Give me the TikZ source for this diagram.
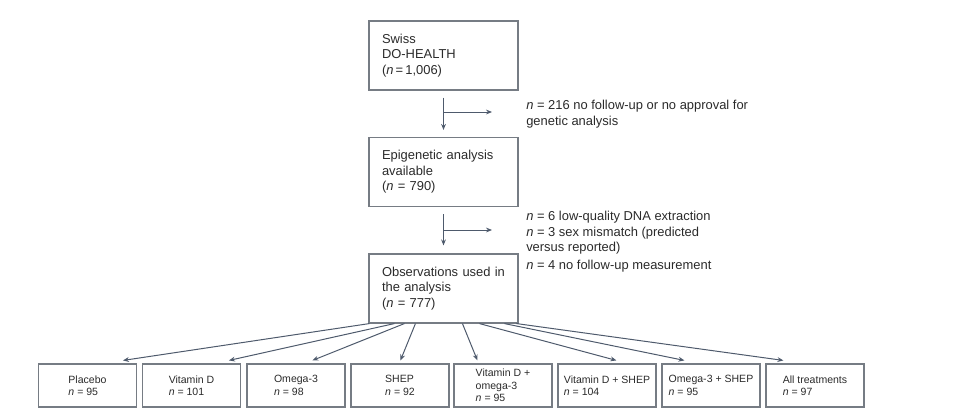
\documentclass[tikz,border=0pt]{standalone}
\usepackage{fontspec}
\setmainfont{Liberation Sans}
\usetikzlibrary{arrows.meta,calc}
\newlength\pxu
\setlength\pxu{0.75pt}
\definecolor{boxc}{HTML}{767C84}
\definecolor{arrc}{HTML}{4E5A6C}
\definecolor{txtc}{HTML}{2A2A2A}
\tikzset{
  mainbox/.style={draw=boxc, line width=0.85pt, text=txtc, text width=123\pxu, inner xsep=13\pxu, inner ysep=0pt,
    minimum height=69\pxu, align=left, font=\fontsize{9.7pt}{11.6pt}\selectfont},
  armbox/.style={draw=boxc, line width=0.85pt, text=txtc, minimum width=98\pxu, minimum height=43\pxu, inner sep=1pt,
    align=left, font=\fontsize{7.9pt}{9.4pt}\selectfont},
  sidetxt/.style={text=txtc, anchor=west, inner sep=0pt, align=left, font=\fontsize{9.7pt}{11.6pt}\selectfont},
  arr/.style={draw=arrc, line width=0.75pt, -{Stealth[length=4.5pt,width=3.6pt]}},
}
\begin{document}
\begin{tikzpicture}[x=\pxu, y=-\pxu]
\useasboundingbox (0,0) rectangle (960,414);
\node[mainbox] (b1) at (443.5,55.5) {Swiss\\DO-HEALTH\\(\textit{n}\,=\,1,006)};
\node[mainbox] (b2) at (443.5,172) {Epigenetic analysis\\available\\(\textit{n} = 790)};
\node[mainbox] (b3) at (443.5,288.5) {Observations used in\\the analysis\\(\textit{n} = 777)};

\node[sidetxt] (t1) at (526,114) {\textit{n} = 216 no follow-up or no approval for\\genetic analysis};
\node[sidetxt] (t2) at (526,241.5) {\textit{n} = 6 low-quality DNA extraction\\\textit{n} = 3 sex mismatch (predicted\\versus reported)\\[1.5pt]\textit{n} = 4 no follow-up measurement};

\coordinate (m1) at (443.5,112);
\coordinate (e1) at (492,112);
\coordinate (m2) at (443.5,230);
\coordinate (e2) at (492,230);
\draw[arr, shorten <=7\pxu, shorten >=7\pxu] (b1) -- (b2);
\draw[arr] (m1) -- (e1);
\draw[arr, shorten <=7\pxu, shorten >=8\pxu] (b2) -- (b3);
\draw[arr] (m2) -- (e2);

\node[armbox] (p1) at (87.5,385.5) {Placebo\\\textit{n} = 95};
\node[armbox] (p2) at (191.5,385.5) {Vitamin D\\\textit{n} = 101};
\node[armbox] (p3) at (296,385.5) {Omega-3\\\textit{n} = 98};
\node[armbox] (p4) at (400,385.5) {SHEP\\\textit{n} = 92};
\node[armbox] (p5) at (503,385.5) {Vitamin D +\\omega-3\\\textit{n} = 95};
\node[armbox] (p6) at (607,385.5) {Vitamin D + SHEP\\\textit{n} = 104};
\node[armbox] (p7) at (711,385.5) {Omega-3 + SHEP\\\textit{n} = 95};
\node[armbox] (p8) at (815,385.5) {All treatments\\\textit{n} = 97};

\draw[arr] ([xshift=1\pxu]b3.south west) -- ([xshift=85\pxu, yshift=3\pxu]p1.north west);
\draw[arr] ([xshift=26\pxu]b3.south west) -- ([xshift=87\pxu, yshift=3\pxu]p2.north west);
\draw[arr] ([xshift=36\pxu]b3.south west) -- ([xshift=66\pxu, yshift=3\pxu]p3.north west);
\draw[arr] ([xshift=47\pxu]b3.south west) -- ([xshift=50\pxu, yshift=3\pxu]p4.north west);
\draw[arr] ([xshift=94\pxu]b3.south west) -- ([xshift=24\pxu, yshift=3\pxu]p5.north west);
\draw[arr] ([xshift=111\pxu]b3.south west) -- ([xshift=59\pxu, yshift=3\pxu]p6.north west);
\draw[arr] ([xshift=136\pxu]b3.south west) -- ([xshift=23\pxu, yshift=3\pxu]p7.north west);
\draw[arr] ([xshift=148\pxu]b3.south west) -- ([xshift=18\pxu, yshift=3\pxu]p8.north west);
\end{tikzpicture}
\end{document}
